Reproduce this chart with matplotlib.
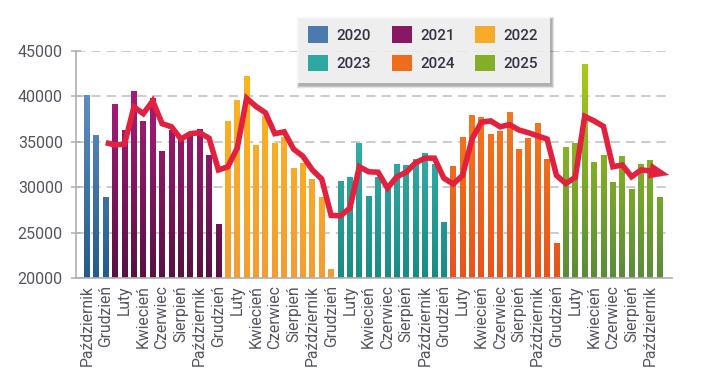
import numpy as np
import matplotlib
matplotlib.use("Agg")
import matplotlib.pyplot as plt
from matplotlib.colors import LinearSegmentedColormap, to_rgb, to_hex
from matplotlib.patches import Patch, Rectangle

plt.rcParams['font.family'] = ['Roboto', 'DejaVu Sans']

years = ['2020', '2021', '2022', '2023', '2024', '2025']
month_names = ['Styczeń', 'Luty', 'Marzec', 'Kwiecień', 'Maj', 'Czerwiec',
               'Lipiec', 'Sierpień', 'Wrzesień', 'Październik', 'Listopad', 'Grudzień']

v2020 = [40100, 35700, 28950]
v2021 = [39150, 36300, 40600, 37300, 39800, 34000, 36300, 35500, 36100, 36400, 33600, 25950]
v2022 = [37300, 39550, 42300, 34650, 37800, 34900, 35500, 32150, 32700, 30900, 28950, 21000]
v2023 = [30700, 31100, 34900, 29000, 31100, 30100, 32600, 32400, 33100, 33800, 32550, 26200]
v2024 = [32300, 35500, 37950, 37700, 35900, 36200, 38300, 34200, 35400, 37100, 33100, 23800]
v2025 = [34400, 34900, 43600, 32800, 33500, 30600, 33400, 29800, 32600, 33000, 28900]

# trend line (starts Dec 2020); last value is the arrow tip
trend = [34900,
         34650, 34750, 38850, 38100, 39500, 37000, 36650, 35300, 35900, 36000, 35400, 31900,
         32250, 34300, 39800, 38900, 38200, 35900, 36100, 34200, 33400, 31900, 30900, 26900,
         26850, 27700, 32250, 31700, 31650, 29900, 31150, 31650, 32700, 33200, 33200, 31000,
         30350, 31300, 35300, 37150, 37300, 36650, 36900, 36300, 36000, 35650, 35300, 31300,
         30400, 31100, 37800, 37300, 36700, 32250, 32450, 31150, 31900, 31800, 31350]

series = [v2020, v2021, v2022, v2023, v2024, v2025]
start_month = [9, 0, 0, 0, 0, 0]

grad = {
    '2020': ('#7099d0', '#245b8d'),
    '2021': ('#bb1e86', '#571241'),
    '2022': ('#fcb91a', '#f39d35'),
    '2023': ('#45c4c0', '#188c83'),
    '2024': ('#f6861e', '#e7531c'),
    '2025': ('#acd010', '#5a8c3a'),
}

W, H = 716, 376
fig = plt.figure(figsize=(W/100, H/100), dpi=100)
ax = fig.add_axes([76/W, 1-278/H, (672-76)/W, (278-51)/H])

ymin, ymax = 20000, 45000
idx = 0
labels_pos, labels_txt = [], []
for y, vals, sm in zip(years, series, start_month):
    n = len(vals)
    x = np.arange(idx, idx + n)
    bars = ax.bar(x, np.array(vals) - ymin, bottom=ymin, width=0.62,
                  color='none', edgecolor='none', zorder=2)
    top, bot = grad[y]
    cmap = LinearSegmentedColormap.from_list('g' + y, [bot, top])
    g = np.linspace(0, 1, 256).reshape(-1, 1)
    for b in bars:
        x0 = b.get_x(); w = b.get_width()
        im = ax.imshow(g, cmap=cmap, origin='lower', aspect='auto',
                       extent=[x0, x0 + w, ymin, ymax], zorder=2, interpolation='bilinear')
        im.set_clip_path(b)
    for k in range(n):
        m = (sm + k) % 12
        xi = idx + k
        if xi % 2 == 0:
            labels_pos.append(xi)
            labels_txt.append(month_names[m])
    idx += n

red = '#e2213f'
tx = np.arange(2, 2 + len(trend))
ax.plot(tx[:-1], trend[:-1], color=red, lw=4.0, zorder=4,
        solid_joinstyle='miter', solid_capstyle='butt')
ax.annotate('', xy=(tx[-1] + 1.0, trend[-1]), xytext=(tx[-2], trend[-2]),
            arrowprops=dict(arrowstyle='-|>,head_length=14,head_width=5.5',
                            mutation_scale=1, color=red, lw=0.3,
                            shrinkA=0, shrinkB=0),
            zorder=4)

ax.set_xlim(-1.17, 62.3)
ax.set_ylim(ymin, ymax)
ax.set_yticks(np.arange(20000, 45001, 5000))
ax.set_xticks(labels_pos)
ax.set_xticklabels(labels_txt, rotation=90)
ax.tick_params(axis='y', direction='inout', length=7, width=1.1, color='#b0b0b0',
               pad=6, labelsize=11.5, labelcolor='#55555f')
ax.tick_params(axis='x', length=0, pad=5, labelsize=11.3, labelcolor='#55555f')

ax.grid(axis='y', color='#bdbdbd', linestyle=(0, (6, 4)), linewidth=1.1, zorder=0)
ax.set_axisbelow(True)
for s in ['top', 'right']:
    ax.spines[s].set_visible(False)
for s in ['left', 'bottom']:
    ax.spines[s].set_color('#b0b0b0')
    ax.spines[s].set_linewidth(1.2)

def mid(c1, c2):
    return to_hex(0.5*np.array(to_rgb(c1)) + 0.5*np.array(to_rgb(c2)))

order = ['2020', '2023', '2021', '2024', '2022', '2025']
handles = [Patch(facecolor=mid(*grad[y]), edgecolor='none') for y in order]
leg = fig.legend(handles, order, ncol=3, loc='upper left',
                 bbox_to_anchor=(297/W, 1-15/H),
                 frameon=True, fancybox=False,
                 prop={'family': 'Roboto', 'weight': 'medium', 'size': 11},
                 labelcolor='#333344', handlelength=1.3, handleheight=1.3,
                 columnspacing=1.35, handletextpad=0.55, borderpad=0.75,
                 labelspacing=0.75, borderaxespad=0)
leg.get_frame().set_edgecolor('none')
leg.get_frame().set_facecolor('white')
leg.set_zorder(10)

# soft shadow behind the legend
fig.canvas.draw()
bb = leg.get_window_extent()
for i, a in enumerate(np.linspace(0.10, 0.02, 6)):
    d = i + 1
    r = Rectangle((bb.x0 + 2 - d/2, bb.y0 - 3 - d/2), bb.width + d, bb.height + d - 1,
                  transform=None, facecolor='#000000', alpha=a, edgecolor='none', zorder=9)
    fig.add_artist(r)

fig.savefig('out.png', dpi=100)
